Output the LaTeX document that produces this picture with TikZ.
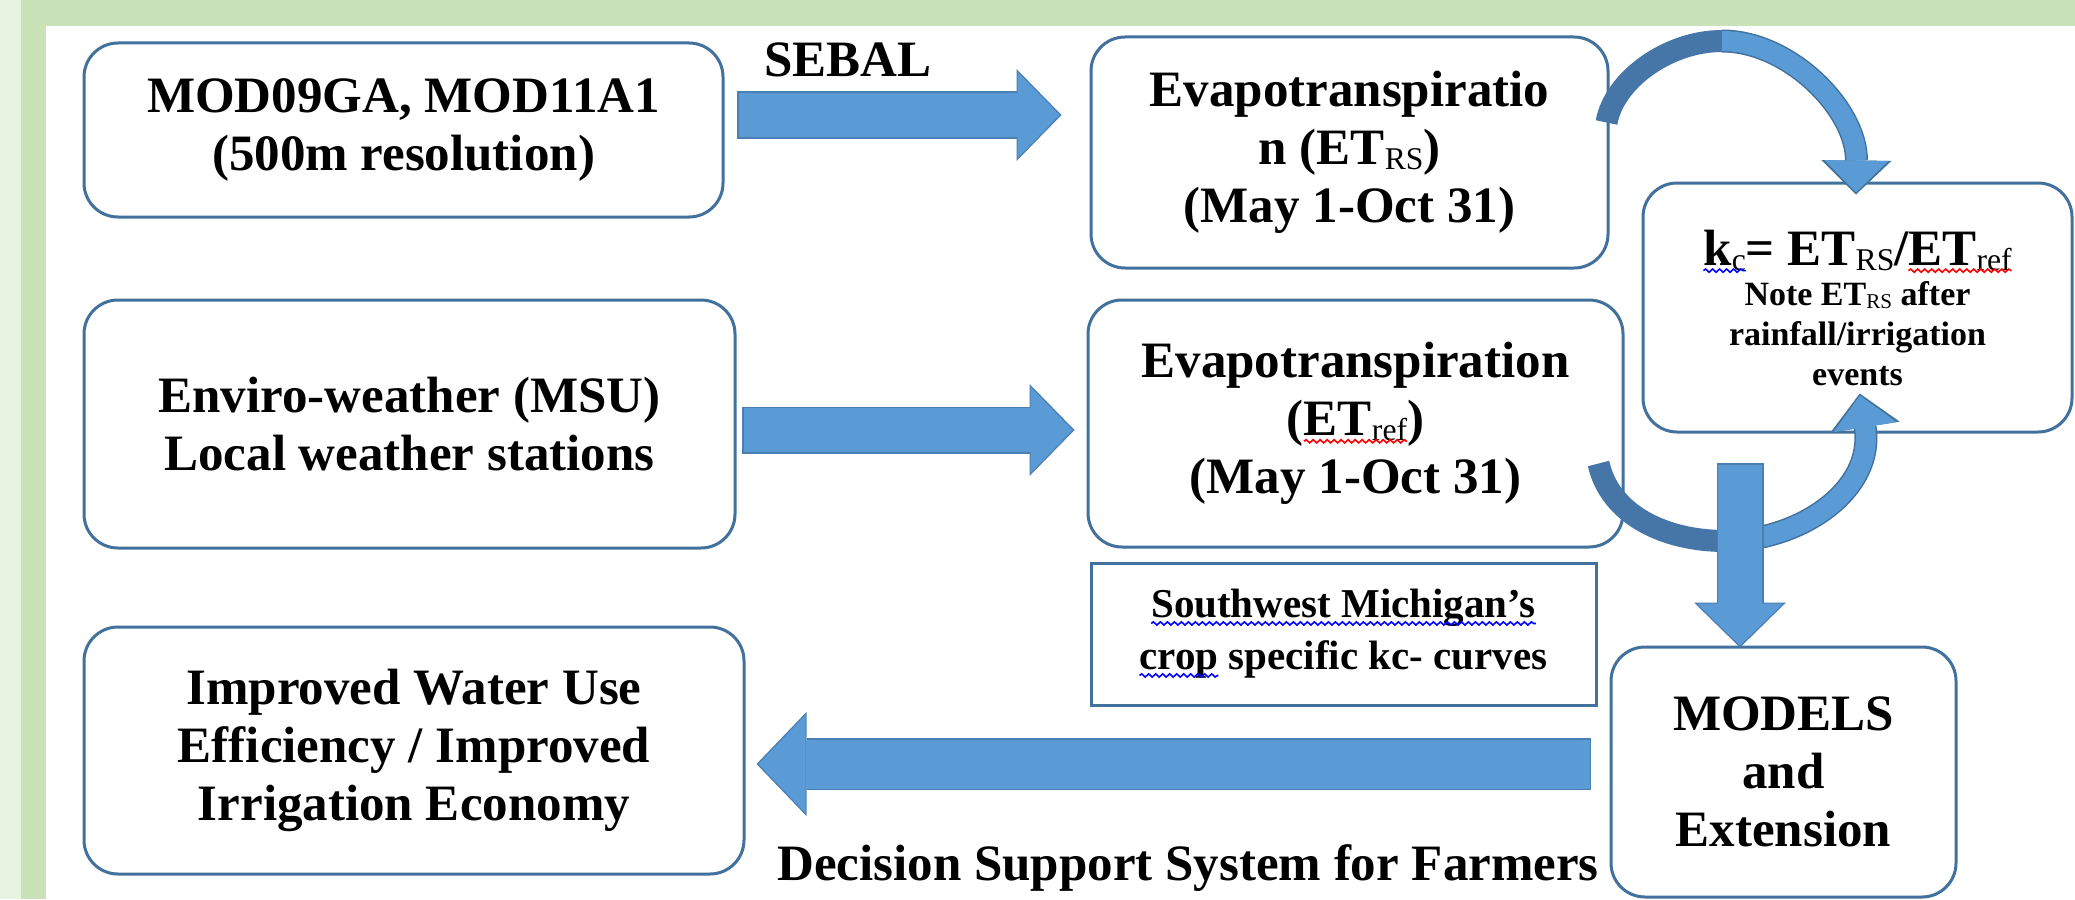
\documentclass[tikz,border=0pt]{standalone}
\usepackage{fontspec}
\setmainfont{Liberation Serif}
\usepackage{graphicx}
\usetikzlibrary{arrows.meta,decorations.pathmorphing}

\definecolor{boxline}{HTML}{41719C}
\definecolor{arrowfill}{HTML}{5B9BD5}
\definecolor{arrowline}{HTML}{4A7FB3}
\definecolor{bendshade}{HTML}{4676A8}
\definecolor{framegreen}{HTML}{C9E2B8}
\definecolor{framepale}{HTML}{E8F3E0}

\newcommand{\lowsub}[1]{\raisebox{-0.1em}{\scalebox{0.62}{\mdseries #1}}}
\newcommand{\bigline}{\fontsize{25.5}{29}\selectfont}
\newcommand{\squig}[2]{\tikz[baseline=(sq.base)]{%
  \node[draw=none,fill=none,inner sep=0pt,outer sep=0pt,minimum width=0pt,minimum height=0pt,font=,anchor=base] (sq) {#2};%
  \draw[overlay,draw=#1,line width=0.8pt,sharp corners,decorate,decoration={snake,amplitude=0.8pt,segment length=3.5pt}]
    ([yshift=-2.8pt]sq.base west) -- ([yshift=-2.8pt]sq.base east);}}

\tikzset{
  roundbox/.style={draw=boxline, line width=1.5pt, rounded corners=17pt, fill=white,
    align=center, inner sep=0pt, font=\bfseries\fontsize{25.5}{29}\selectfont},
  notebox/.style={roundbox, font=\bfseries\fontsize{17}{20}\selectfont},
  plainbox/.style={draw=boxline, line width=1.5pt, fill=white, align=center, inner sep=0pt,
    font=\bfseries\fontsize{20.5}{26}\selectfont},
  tag/.style={inner sep=0pt, font=\bfseries\fontsize{25.5}{29}\selectfont},
  blockarrow/.style={draw=arrowfill, line width=22pt, -{Triangle[length=21pt,width=43pt,line width=0pt]},
    preaction={draw=arrowline, line width=23.5pt, -{Triangle[length=22.5pt,width=46pt,line width=0pt]},
      shorten >=-1pt, shorten <=-0.75pt}},
  wideblock/.style={draw=arrowfill, line width=24.5pt, -{Triangle[length=23.5pt,width=49pt,line width=0pt]},
    preaction={draw=arrowline, line width=26pt, -{Triangle[length=25pt,width=52pt,line width=0pt]},
      shorten >=-1pt, shorten <=-0.75pt}},
  bendback/.style={draw=bendshade, line width=11pt},
  bendfront/.style={draw=arrowfill, line width=10pt, -{Triangle[length=16pt,width=32pt,line width=0pt]},
    preaction={draw=boxline, line width=11.5pt, -{Triangle[length=17pt,width=35pt,line width=0pt]},
      shorten >=-1pt}}
}

\begin{document}
\begin{tikzpicture}[x=0.5pt, y=-0.5pt]
  \useasboundingbox (0,0) rectangle (2075,899);
  \fill[white] (0,0) rectangle (2075,899);
  \fill[framepale] (0,0) rectangle (21,899);
  \fill[framegreen] (21,0) rectangle (2075,26);
  \fill[framegreen] (21,0) rectangle (46,899);

  \node[roundbox, minimum width=319.5pt, minimum height=87pt] (modis) at (403.5,130)
    {MOD09GA, MOD11A1\\(500m resolution)};
  \node[roundbox, minimum width=325.5pt, minimum height=124pt] (weather) at (409.5,424)
    {Enviro-weather (MSU)\\Local weather stations};
  \node[roundbox, minimum width=330pt, minimum height=123.5pt] (wue) at (414,750.5)
    {Improved Water Use\\Efficiency / Improved\\Irrigation Economy};
  \node[roundbox, minimum width=258.5pt, minimum height=115.5pt] (etrs) at (1349.5,152.5)
    {Evapotranspiratio\\n (ET\lowsub{RS})\\(May 1-Oct 31)};
  \node[roundbox, minimum width=267.5pt, minimum height=123.5pt] (etref) at (1355.5,423.5)
    {Evapotranspiration\\(\squig{red}{ET\lowsub{ref}})\\(May 1-Oct 31)};
  \node[notebox, minimum width=214.5pt, minimum height=124.5pt] (kc) at (1857.5,307.5)
    {\bigline\squig{blue}{k\lowsub{c}}= ET\lowsub{RS}/\squig{red}{ET\lowsub{ref}}\\
     Note ET\lowsub{RS} after\\rainfall/irrigation\\events};
  \node[roundbox, minimum width=172.5pt, minimum height=125pt] (models) at (1783.5,772)
    {MODELS\\and\\Extension};
  \node[plainbox, minimum width=252.5pt, minimum height=71pt] (curves) at (1343.5,634)
    {\squig{blue}{Southwest Michigan's}\\\squig{blue}{crop} specific kc- curves};
  \node[tag] (sebaltxt) at (848,60) {SEBAL};
  \node[tag, anchor=base] (dss) at (1188,880) {Decision Support System for Farmers};

  \coordinate (rsout) at ([shift={(-3,-30)}]etrs.east);
  \coordinate (rstop) at (1722,41);
  \coordinate (kcin) at ([shift={(-1.5,11)}]kc.north);
  \draw[bendback] (rsout) .. controls (1614,80) and (1668,41) .. (rstop);
  \draw[bendfront] (rstop) .. controls (1790,41) and (1857,110) .. (kcin);

  \coordinate (refout) at ([shift={(-26,40)}]etref.east);
  \coordinate (refdip) at (1725,541);
  \coordinate (kcup) at ([shift={(2.5,-38)}]kc.south);
  \draw[bendback] (refout) .. controls (1610,515) and (1665,541) .. (refdip);
  \draw[bendfront] (refdip) .. controls (1800,541) and (1875,490) .. (kcup);

  \coordinate (sebal) at ([shift={(14,-15)}]modis.east);
  \draw[blockarrow] (sebal) -- ([shift={(-30,0)}]sebal -| etrs.west);
  \coordinate (feed) at ([shift={(7,6)}]weather.east);
  \draw[blockarrow] (feed) -- ([shift={(-14,0)}]feed -| etref.west);
  \coordinate (drop) at ([shift={(-43.5,0)}]models.north);
  \draw[blockarrow] ([shift={(0,31)}]drop |- kc.south) -- (drop);
  \coordinate (back) at ([shift={(-20,-8)}]models.west);
  \draw[wideblock] (back) -- ([shift={(13,0)}]back -| wue.east);
\end{tikzpicture}
\end{document}
